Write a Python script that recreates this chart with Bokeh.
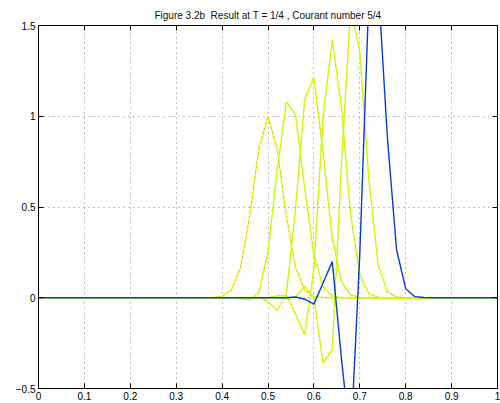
from bokeh.plotting import figure
from bokeh.models import Range1d, LinearAxis, FixedTicker
from bokeh.embed import file_html
from bokeh.resources import INLINE

# grid x = 0, 0.02, ..., 1.00
x = [round(0.02 * i, 2) for i in range(51)]

# values (non-zero part j=18..42, i.e. x=0.36..0.84)
u_t0 = [0]*18 + [0.000, 0.001, 0.007, 0.041, 0.165, 0.449, 0.819, 1.000, 0.819, 0.449,
                 0.165, 0.041, 0.007, 0.001, 0.000, 0, 0, 0, 0, 0, 0, 0, 0, 0, 0] + [0]*8
u_t1 = [0]*18 + [0.000, 0.000, 0.000, -0.001, -0.005, -0.012, 0.029, 0.253, 0.705, 1.079,
                 1.009, 0.601, 0.233, 0.060, 0.010, 0.001, 0, 0, 0, 0, 0, 0, 0, 0, 0] + [0]*8
u_t2 = [0]*18 + [0, 0, 0, 0, 0, 0.001, 0.002, -0.020, -0.069, 0.022,
                 0.491, 1.093, 1.215, 0.798, 0.328, 0.087, 0.015, 0.002, 0, 0, 0, 0, 0, 0, 0] + [0]*8
u_t3 = [0]*18 + [0, 0, 0, 0, 0, 0, -0.001, 0.000, 0.011, 0.013,
                 -0.091, -0.205, 0.160, 0.998, 1.420, 1.047, 0.459, 0.126, 0.022, 0.003, 0, 0, 0, 0, 0] + [0]*8
u_t4 = [0]*18 + [0, 0, 0, 0, 0, 0, 0, 0.000, 0.000, -0.006,
                 0.003, 0.065, -0.004, -0.358, -0.285, 0.737, 1.594, 1.356, 0.640, 0.184, 0.033, 0.004, 0.000, 0, 0] + [0]*8
u_t5 = [0]*18 + [0, 0, 0, 0, 0, 0, 0, 0, 0, 0.000,
                 0.004, -0.008, -0.035, 0.081, 0.199, -0.335, -0.806, 0.240, 1.683, 1.731, 0.887, 0.266, 0.050, 0.006, 0.001] + [0]*8

x_ticks = [0, 0.1, 0.2, 0.3, 0.4, 0.5, 0.6, 0.7, 0.8, 0.9, 1]
x_tick_labels = ["0", "0.1", "0.2", "0.3", "0.4", "0.5", "0.6", "0.7", "0.8", "0.9", "1"]
y_ticks = [-0.5, 0, 0.5, 1, 1.5]
y_tick_labels = ["\u22120.5", "0", "0.5", "1", "1.5"]

title_text = "Figure 3.2b\u00a0 Result at T = 1/4 , Courant number 5/4"
FONT = "Liberation Sans"

p = figure(width=500, height=403, x_range=Range1d(0, 1), y_range=Range1d(-0.5, 1.5),
           output_backend="svg", toolbar_location=None,
           min_border_left=38, min_border_right=3, min_border_top=25, min_border_bottom=15)

p.title.text = title_text
p.title.align = "center"
p.title.text_font = FONT
p.title.text_font_size = "10px"
p.title.text_font_style = "normal"
p.title.text_color = "#111111"

p.outline_line_color = "black"
p.outline_line_width = 1

for ax, ticks, labels in ((p.xaxis[0], x_ticks, x_tick_labels), (p.yaxis[0], y_ticks, y_tick_labels)):
    ax.ticker = FixedTicker(ticks=ticks)
    ax.major_label_overrides = {t: l for t, l in zip(ticks, labels)}
    ax.major_tick_in = 5
    ax.major_tick_out = 0
    ax.minor_tick_line_color = None
    ax.axis_line_color = "black"
    ax.major_tick_line_color = "black"
    ax.major_label_text_font = FONT
    ax.major_label_text_font_size = "10px"
    ax.major_label_text_color = "black"
    ax.major_label_standoff = 3

# tick marks only (no labels) on the top and right sides, like the boxed reference
top = LinearAxis(ticker=FixedTicker(ticks=x_ticks), major_tick_in=5, major_tick_out=0,
                 minor_tick_line_color=None, major_label_text_font_size="0px",
                 major_label_text_color=None, major_label_standoff=0, axis_line_color="black")
right = LinearAxis(ticker=FixedTicker(ticks=y_ticks), major_tick_in=5, major_tick_out=0,
                   minor_tick_line_color=None, major_label_text_font_size="0px",
                   major_label_text_color=None, major_label_standoff=0, axis_line_color="black")
p.add_layout(top, "above")
p.add_layout(right, "right")

p.xgrid.ticker = FixedTicker(ticks=x_ticks)
p.ygrid.ticker = FixedTicker(ticks=y_ticks)
for g in (p.xgrid[0], p.ygrid[0]):
    g.grid_line_color = "#808080"
    g.grid_line_dash = "1 4"
    g.grid_line_width = 1

# initial profile: yellow dotted
p.line(x, u_t0, line_color="#f2f200", line_width=1.3)
p.line(x, u_t0, line_color="#8a8a50", line_width=1, line_dash="1 4", line_alpha=0.7)

green = "#c8fa00"
for u in (u_t1, u_t2, u_t3, u_t4):
    p.line(x, u, line_color=green, line_width=1.4)

p.line(x, u_t5, line_color="#0a3ad0", line_width=1.4)

open("out.html", "w").write(file_html(p, INLINE))
